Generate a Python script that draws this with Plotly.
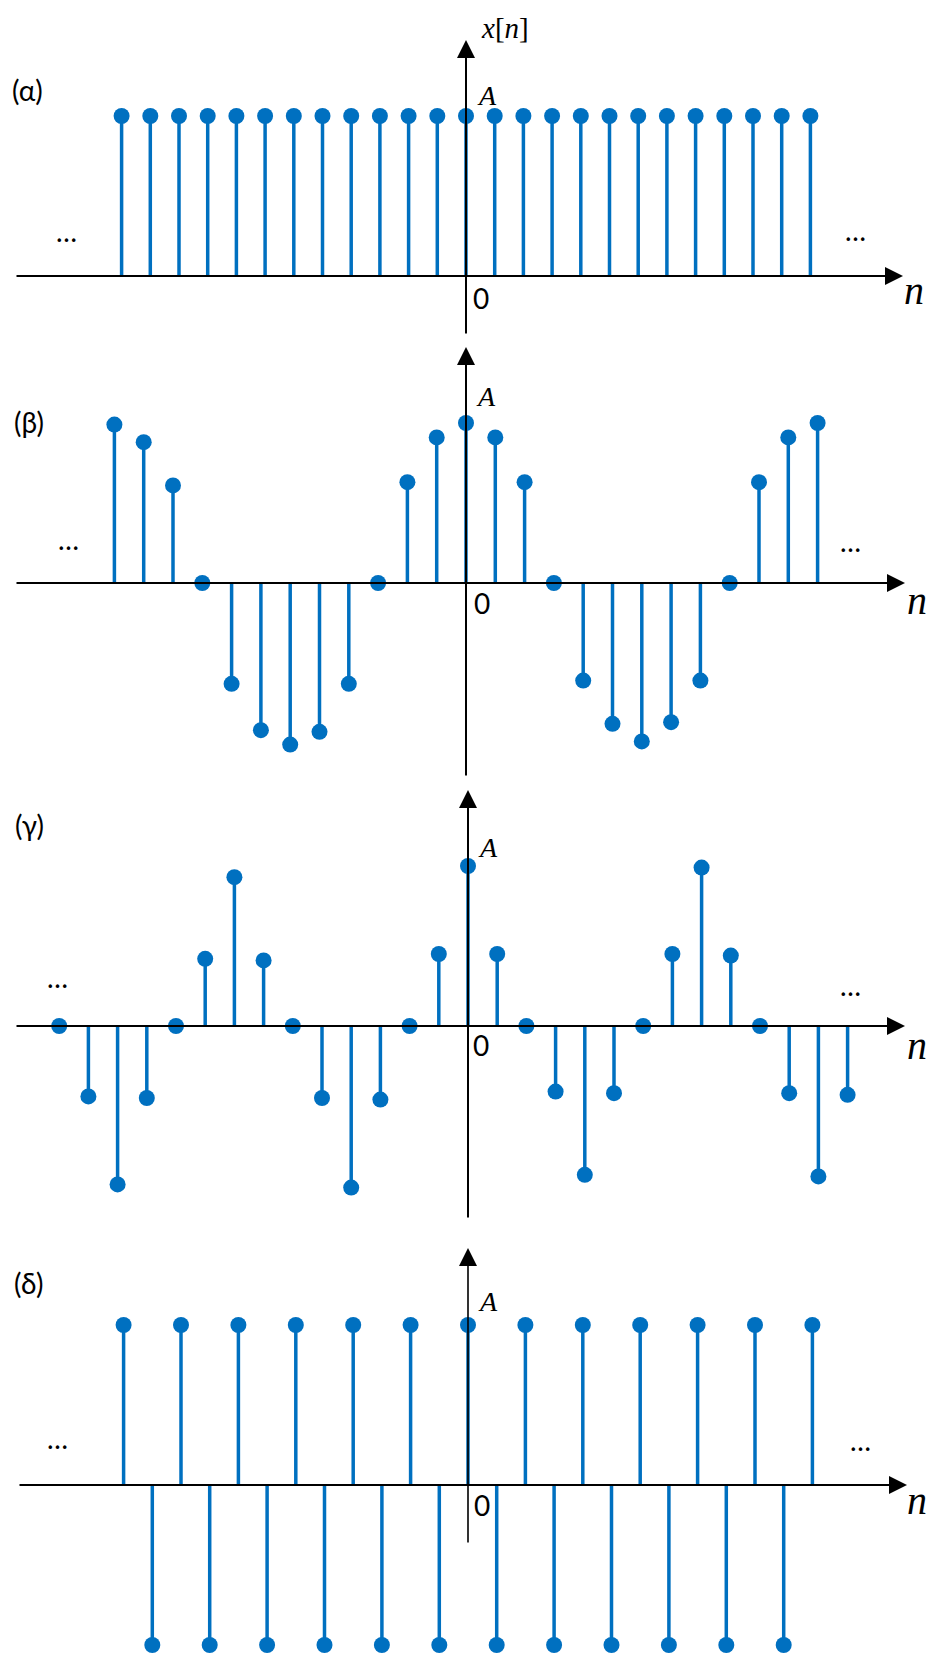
import plotly.graph_objects as go

W, H = 929, 1654
BLUE = "#0070C0"
K = 160.0  # pixels per unit amplitude A

# ---------------- data (amplitudes in units of A) ----------------
n_alpha = list(range(-12, 13))
v_alpha = [1.0, 1.0, 1.0, 1.0, 1.0, 1.0, 1.0, 1.0, 1.0, 1.0, 1.0, 1.0, 1.0,
           1.0, 1.0, 1.0, 1.0, 1.0, 1.0, 1.0, 1.0, 1.0, 1.0, 1.0, 1.0]

n_beta = list(range(-12, 13))
v_beta = [0.99, 0.88, 0.61, 0.0, -0.63, -0.92, -1.01, -0.93, -0.63, 0.0, 0.63, 0.91, 1.0,
          0.91, 0.63, 0.0, -0.61, -0.88, -0.99, -0.87, -0.61, 0.0, 0.63, 0.91, 1.0]

n_gamma = list(range(-14, 14))
v_gamma = [0.0, -0.44, -0.99, -0.45, 0.0, 0.42, 0.93, 0.41, 0.0, -0.45, -1.01, -0.46, 0.0, 0.45,
           1.0, 0.45, 0.0, -0.41, -0.93, -0.42, 0.0, 0.45, 0.99, 0.44, 0.0, -0.42, -0.94, -0.43]

n_delta = list(range(-12, 13))
v_delta = [1.0, -1.0, 1.0, -1.0, 1.0, -1.0, 1.0, -1.0, 1.0, -1.0, 1.0, -1.0, 1.0,
           -1.0, 1.0, -1.0, 1.0, -1.0, 1.0, -1.0, 1.0, -1.0, 1.0, -1.0, 1.0]

panel_labels = ["(α)", "(β)", "(γ)", "(δ)"]
amp_label = "A"
zero_label = "0"
n_label = "n"
y_label = "x[n]"

# ---------------- layout geometry (pixels) ----------------
panels = [
    dict(n=n_alpha, v=v_alpha, top=0, bot=335, axis=276, cx=466, s=28.7,
         hx=(15, 903), vy=(335, 40), vw=2,
         lab=(27, 90), A=(487, 95), zero=(481, 298), nl=(914, 290),
         dots=[(66, 243), (855, 242)]),
    dict(n=n_beta, v=v_beta, top=335, bot=780, axis=583, cx=466, s=29.3,
         hx=(15, 905), vy=(777, 347), vw=2,
         lab=(29, 422), A=(486, 397), zero=(482, 603), nl=(917, 600),
         dots=[(68, 551), (850, 553)]),
    dict(n=n_gamma, v=v_gamma, top=780, bot=1230, axis=1026, cx=468, s=29.2,
         hx=(15, 905), vy=(1219, 790), vw=2,
         lab=(29, 825), A=(488, 847), zero=(481, 1045), nl=(917, 1045),
         dots=[(57, 989), (850, 997)]),
    dict(n=n_delta, v=v_delta, top=1230, bot=1654, axis=1485, cx=468, s=28.7,
         hx=(18, 907), vy=(1544, 1248), vw=1.6,
         lab=(29, 1283), A=(488, 1301), zero=(482, 1505), nl=(917, 1500),
         dots=[(57, 1450), (860, 1452)]),
]

fig = go.Figure()
annotations = []


def px(xp):
    return xp / W


def py(yp):
    return 1 - yp / H


for i, p in enumerate(panels, start=1):
    xa = "x" if i == 1 else f"x{i}"
    ya = "y" if i == 1 else f"y{i}"
    # stems
    sx, sy = [], []
    for n, v in zip(p["n"], p["v"]):
        sx += [n, n, None]
        sy += [0, v, None]
    fig.add_trace(go.Scatter(x=sx, y=sy, mode="lines", xaxis=xa, yaxis=ya,
                             line=dict(color=BLUE, width=3.5), hoverinfo="skip",
                             showlegend=False))
    fig.add_trace(go.Scatter(x=p["n"], y=p["v"], mode="markers", xaxis=xa, yaxis=ya,
                             marker=dict(color=BLUE, size=16, line=dict(width=0)),
                             showlegend=False))

    cx, s, ax0 = p["cx"], p["s"], p["axis"]
    lay_x = dict(domain=[0, 1], range=[-cx / s, (W - cx) / s], visible=False,
                 fixedrange=True)
    lay_y = dict(domain=[py(p["bot"]), py(p["top"])],
                 range=[(ax0 - p["bot"]) / K, (ax0 - p["top"]) / K],
                 visible=False, fixedrange=True)
    if i > 1:
        lay_x["anchor"] = ya
        lay_y["anchor"] = xa
    fig.update_layout(**{("xaxis" if i == 1 else f"xaxis{i}"): lay_x,
                         ("yaxis" if i == 1 else f"yaxis{i}"): lay_y})

    # horizontal arrow axis
    annotations.append(dict(x=(p["hx"][1] - cx) / s, y=0, ax=(p["hx"][0] - cx) / s, ay=0,
                            xref=xa, yref=ya, axref=xa, ayref=ya, text="",
                            showarrow=True, arrowhead=2, arrowsize=1.8, arrowwidth=2,
                            arrowcolor="black", standoff=0))
    # vertical arrow axis
    annotations.append(dict(x=0, y=(ax0 - p["vy"][1]) / K, ax=0, ay=(ax0 - p["vy"][0]) / K,
                            xref=xa, yref=ya, axref=xa, ayref=ya, text="",
                            showarrow=True, arrowhead=2, arrowsize=1.8 * 2 / p["vw"],
                            arrowwidth=p["vw"], arrowcolor="black", standoff=0))
    # texts
    annotations.append(dict(x=px(p["lab"][0]), y=py(p["lab"][1]), xref="paper", yref="paper",
                            text=panel_labels[i - 1], showarrow=False,
                            font=dict(family="Lato", size=28, color="black"),
                            xanchor="center", yanchor="middle"))
    annotations.append(dict(x=px(p["A"][0]), y=py(p["A"][1]), xref="paper", yref="paper",
                            text=f"<i>{amp_label}</i>", showarrow=False,
                            font=dict(family="Liberation Serif", size=28, color="black"),
                            xanchor="center", yanchor="middle"))
    annotations.append(dict(x=px(p["zero"][0]), y=py(p["zero"][1]), xref="paper", yref="paper",
                            text=zero_label, showarrow=False,
                            font=dict(family="Lato", size=28, color="black"),
                            xanchor="center", yanchor="middle"))
    annotations.append(dict(x=px(p["nl"][0]), y=py(p["nl"][1]), xref="paper", yref="paper",
                            text=f"<i>{n_label}</i>", showarrow=False,
                            font=dict(family="Liberation Serif", size=40, color="black"),
                            xanchor="center", yanchor="middle"))
    for (dx, dy) in p["dots"]:
        annotations.append(dict(x=px(dx), y=py(dy + 7), xref="paper", yref="paper",
                                text="…", showarrow=False,
                                font=dict(family="Lato", size=28, color="black"),
                                xanchor="center", yanchor="bottom"))

annotations.append(dict(x=px(505), y=py(28), xref="paper", yref="paper",
                        text="<i>x</i>[<i>n</i>]", showarrow=False,
                        font=dict(family="Liberation Serif", size=29, color="black"),
                        xanchor="center", yanchor="middle"))

fig.update_layout(width=W, height=H, margin=dict(l=0, r=0, t=0, b=0, pad=0),
                  paper_bgcolor="white", plot_bgcolor="white",
                  annotations=annotations, showlegend=False)

fig.write_html("out.html", config={"displayModeBar": False},
               post_script="document.body.style.margin='0';"
                           "document.body.style.padding='0';"
                           "document.body.style.overflow='hidden';")
